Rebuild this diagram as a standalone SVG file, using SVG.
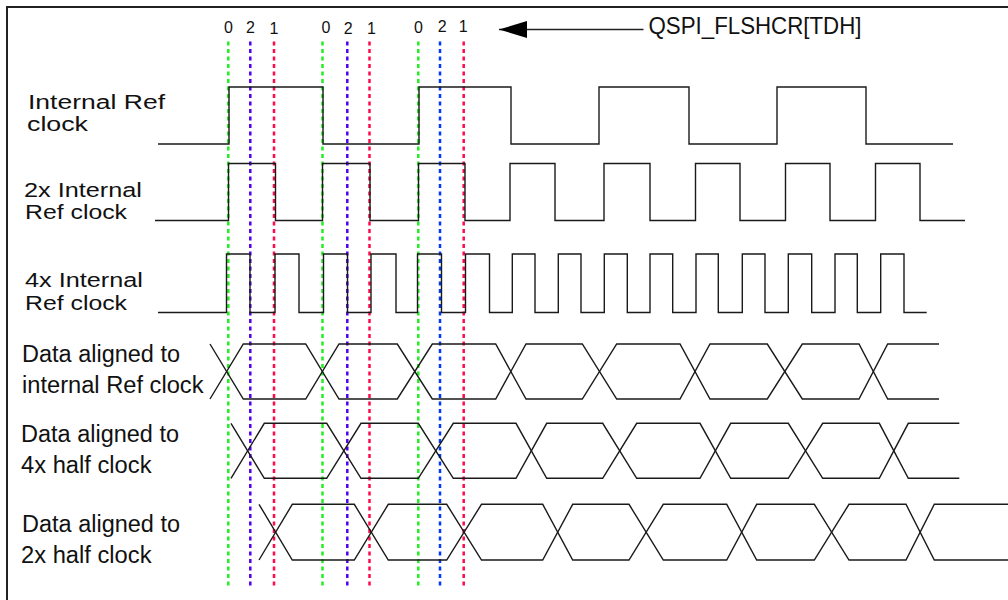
<svg xmlns="http://www.w3.org/2000/svg" width="1008" height="600" viewBox="0 0 1008 600">
<style>
.wave{fill:none;stroke:#1a1a1a;stroke-width:1.4;stroke-linejoin:miter}
.dash{fill:none;stroke-width:2.5;stroke-dasharray:4 3.5}
.g{stroke:#22ee22}
.b{stroke:#5200f0}
.b2{stroke:#0038ff}
.r{stroke:#ff0a4a}
.lbl{font-family:"Liberation Sans",Arial,sans-serif;fill:#111}
.dig{font-family:"Liberation Sans",Arial,sans-serif;font-size:16px;fill:#111;text-anchor:middle}
</style>
<defs>
<marker id="ah" viewBox="0 0 28 17" refX="28" refY="8.5" markerWidth="28" markerHeight="17" markerUnits="userSpaceOnUse" orient="auto">
<path d="M28,8.5 L0,0 L0,17 Z" fill="#000"/>
</marker>
</defs>
<rect width="1008" height="600" fill="#fff"/>
<path d="M7,600 V7 H1008" fill="none" stroke="#222" stroke-width="2"/>

<g id="guides">
<line class="dash g" x1="228.3" y1="41.5" x2="228.3" y2="588"/>
<line class="dash g" x1="322.5" y1="41.5" x2="322.5" y2="588"/>
<line class="dash g" x1="418.3" y1="41.5" x2="418.3" y2="588"/>
<line class="dash b" x1="250.3" y1="41.5" x2="250.3" y2="588"/>
<line class="dash b" x1="347.3" y1="41.5" x2="347.3" y2="588"/>
<line class="dash b2" x1="440" y1="41.5" x2="440" y2="588"/>
<line class="dash r" x1="274" y1="41.5" x2="274" y2="588"/>
<line class="dash r" x1="369.5" y1="41.5" x2="369.5" y2="588"/>
<line class="dash r" x1="463.7" y1="41.5" x2="463.7" y2="588"/>
</g>

<g id="tdh-labels">
<text class="dig" x="228.5" y="33">0</text>
<text class="dig" x="250.5" y="32.7">2</text>
<text class="dig" x="274" y="34">1</text>
<text class="dig" x="326" y="33.3">0</text>
<text class="dig" x="348.3" y="34">2</text>
<text class="dig" x="371.5" y="34">1</text>
<text class="dig" x="418.5" y="33.3">0</text>
<text class="dig" x="442.3" y="31.7">2</text>
<text class="dig" x="463.3" y="32.3">1</text>
</g>

<g id="tdh-callout">
<line x1="643.5" y1="29.5" x2="499" y2="29.5" stroke="#222" stroke-width="1.4" marker-end="url(#ah)"/>
<text class="lbl" x="648.5" y="34.3" font-size="24" textLength="213" lengthAdjust="spacingAndGlyphs">QSPI_FLSHCR[TDH]</text>
</g>

<g id="internal-ref-clock">
<text class="lbl" x="28" y="109.3" font-size="20" textLength="137" lengthAdjust="spacingAndGlyphs">Internal Ref</text>
<text class="lbl" x="27" y="131" font-size="20" textLength="61" lengthAdjust="spacingAndGlyphs">clock</text>
<path class="wave" d="M158,144 H229 V87 H323 V144 H419 V87 H511 V144 H599 V87 H689 V144 H777 V87 H866 V144 H953"/>
</g>

<g id="clock-2x">
<text class="lbl" x="24" y="197.3" font-size="20.5" textLength="118" lengthAdjust="spacingAndGlyphs">2x Internal</text>
<text class="lbl" x="25" y="219.3" font-size="20.5" textLength="102" lengthAdjust="spacingAndGlyphs">Ref clock</text>
<path class="wave" d="M155,220.5 H228.5 V163.5 H275.5 V220.5 H322.5 V163.5 H370 V220.5 H418.5 V163.5 H465 V220.5 H510 V163.5 H555 V220.5 H604 V163.5 H650 V220.5 H695.5 V163.5 H740 V220.5 H785.5 V163.5 H830 V220.5 H875.5 V163.5 H920 V220.5 H965"/>
</g>

<g id="clock-4x">
<text class="lbl" x="25" y="287.3" font-size="20.5" textLength="118" lengthAdjust="spacingAndGlyphs">4x Internal</text>
<text class="lbl" x="25" y="310" font-size="20.5" textLength="102" lengthAdjust="spacingAndGlyphs">Ref clock</text>
<path class="wave" d="M158,312.5 H226.5 V254 H250 V312.5 H275 V254 H299 V312.5 H323.5 V254 H347.5 V312.5 H371 V254 H396 V312.5 H417.5 V254 H441.5 V312.5 H465.5 V254 H489.5 V312.5 H512.3 V254 H535 V312.5 H558.3 V254 H581 V312.5 H604.3 V254 H627.3 V312.5 H650 V254 H672.7 V312.5 H696 V254 H718.3 V312.5 H742.3 V254 H765 V312.5 H788.3 V254 H811.7 V312.5 H835 V254 H857.3 V312.5 H880.7 V254 H904 V312.5 H926.7"/>
</g>

<g id="data-ref">
<text class="lbl" x="22" y="361.7" font-size="23.5" textLength="158" lengthAdjust="spacingAndGlyphs">Data aligned to</text>
<text class="lbl" x="22" y="393.3" font-size="23.5" textLength="181.5" lengthAdjust="spacingAndGlyphs">internal Ref clock</text>
<path class="wave" d="M210,399 L243.3,344 H305.7 L339,399 H397.3 L432.3,344 H495.7 L526,399 H582.3 L616.7,344 H680 L710,399 H767.3 L802.3,344 H859 L887.7,399 H939"/>
<path class="wave" d="M210,344 L243.3,399 H305.7 L339,344 H397.3 L432.3,399 H495.7 L526,344 H582.3 L616.7,399 H680 L710,344 H767.3 L802.3,399 H859 L887.7,344 H939"/>
</g>

<g id="data-4x">
<text class="lbl" x="21" y="441.7" font-size="23.5" textLength="158" lengthAdjust="spacingAndGlyphs">Data aligned to</text>
<text class="lbl" x="21" y="473.3" font-size="23.5" textLength="130.5" lengthAdjust="spacingAndGlyphs">4x half clock</text>
<path class="wave" d="M231,423.3 L264.3,478.3 H326.7 L361,423.3 H418.3 L453.3,478.3 H516 L546.7,423.3 H602.7 L636.7,478.3 H700 L730.7,423.3 H788.3 L822.7,478.3 H879.3 L908.3,423.3 H959.3"/>
<path class="wave" d="M231,478.3 L264.3,423.3 H326.7 L361,478.3 H418.3 L453.3,423.3 H516 L546.7,478.3 H602.7 L636.7,423.3 H700 L730.7,478.3 H788.3 L822.7,423.3 H879.3 L908.3,478.3 H959.3"/>
</g>

<g id="data-2x">
<text class="lbl" x="22" y="531.7" font-size="23.5" textLength="158" lengthAdjust="spacingAndGlyphs">Data aligned to</text>
<text class="lbl" x="21" y="563.3" font-size="23.5" textLength="130.5" lengthAdjust="spacingAndGlyphs">2x half clock</text>
<path class="wave" d="M259,504.3 L292.3,560 H354.3 L388.3,504.3 H446.7 L481.5,560 H542.7 L572.7,504.3 H629 L663.3,560 H726.7 L756.7,504.3 H814.3 L849,560 H906 L934.3,504.3 H1010"/>
<path class="wave" d="M259,560 L292.3,504.3 H354.3 L388.3,560 H446.7 L481.5,504.3 H542.7 L572.7,560 H629 L663.3,504.3 H726.7 L756.7,560 H814.3 L849,504.3 H906 L934.3,560 H1010"/>
</g>
</svg>
